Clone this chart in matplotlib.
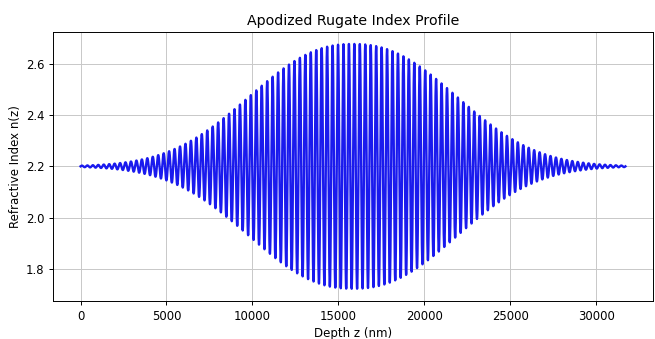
import numpy as np
import matplotlib
matplotlib.use("Agg")
import matplotlib.pyplot as plt

# Rugate design parameters
n_avg = 2.20          # mean refractive index
delta_n = 0.478       # peak index modulation
period_nm = 317.0     # modulation period
n_periods = 100       # number of periods in the stack
env_width_nm = 7760.0 # apodization half-width
env_power = 2.3       # apodization shape exponent

total_depth = period_nm * n_periods
z = np.linspace(0.0, total_depth, 40000)
z_c = total_depth / 2.0
envelope = np.exp(-np.abs((z - z_c) / env_width_nm) ** env_power)
n_z = n_avg + delta_n * envelope * np.sin(2 * np.pi * z / period_nm)

plt.rcParams.update({
    "axes.linewidth": 0.7,
    "xtick.major.width": 0.7,
    "ytick.major.width": 0.7,
    "xtick.major.size": 3.0,
    "ytick.major.size": 3.0,
    "xtick.labelsize": 8.4,
    "ytick.labelsize": 8.4,
})

fig = plt.figure(figsize=(6.55, 3.39), dpi=100)
ax = fig.add_axes([53.3 / 655, 1 - 301 / 339, (652.7 - 53.3) / 655, (301 - 31.7) / 339])
ax.plot(z, n_z, color="#1a1aee", linewidth=1.7)
ax.set_title("Apodized Rugate Index Profile", fontsize=10.2, pad=5)
ax.set_xlabel("Depth z (nm)", fontsize=8.5, labelpad=3)
ax.set_ylabel("Refractive Index n(z)", fontsize=8.5, labelpad=3)
ax.set_yticks([1.8, 2.0, 2.2, 2.4, 2.6])
ax.grid(True, linewidth=0.7, color="#c8c8c8")
fig.savefig("out.png", dpi=100)
